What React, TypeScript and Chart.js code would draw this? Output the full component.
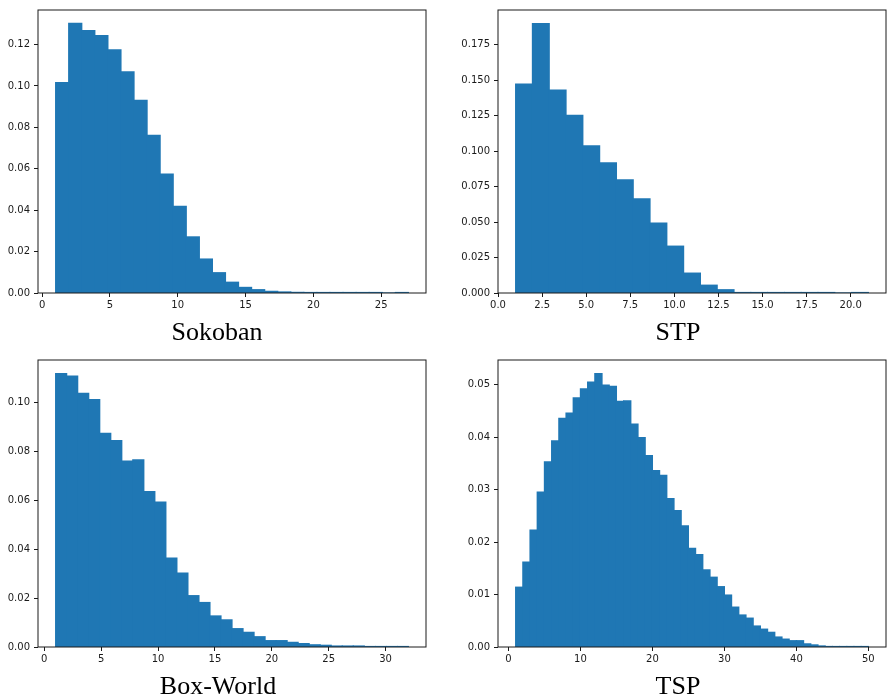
import React, { useEffect, useRef } from "react";
import { Chart, registerables } from "chart.js";

Chart.register(...registerables);

// ---------- data ----------
const sokobanValues = [
  0.1016, 0.1302, 0.1268, 0.1243, 0.1174, 0.1068, 0.0931, 0.0761, 0.0574,
  0.0418, 0.0271, 0.0164, 0.0098, 0.0052, 0.0027, 0.0016, 0.0008, 0.0005,
  0.0003, 0.0002, 0.0001, 0.0001, 0.00005, 0.00003, 0.00002, 0.0, 0.00001,
];
const sokobanXTicks = [0, 5, 10, 15, 20, 25];
const sokobanYTicks = [0.0, 0.02, 0.04, 0.06, 0.08, 0.1, 0.12];

const stpValues = [
  0.1472, 0.1899, 0.1429, 0.1252, 0.1037, 0.0917, 0.0798, 0.0663, 0.0493,
  0.033, 0.014, 0.0055, 0.0023, 0.0002, 0.0001, 0.00005, 0.00003, 0.00002,
  0.00001, 0.0, 0.00001,
];
const stpXTicks = [0, 2.5, 5, 7.5, 10, 12.5, 15, 17.5, 20];
const stpYTicks = [0, 0.025, 0.05, 0.075, 0.1, 0.125, 0.15, 0.175];

const boxWorldValues = [
  0.1118, 0.1108, 0.1038, 0.1012, 0.0874, 0.0844, 0.076, 0.0766, 0.0636,
  0.0593, 0.0364, 0.0302, 0.021, 0.0182, 0.0127, 0.0111, 0.0075, 0.006,
  0.0042, 0.0026, 0.0026, 0.0019, 0.0014, 0.0009, 0.0007, 0.0004, 0.0004,
  0.0004, 0.0002, 0.0001, 0.00005, 0.00002,
];
const boxWorldXTicks = [0, 5, 10, 15, 20, 25, 30];
const boxWorldYTicks = [0, 0.02, 0.04, 0.06, 0.08, 0.1];

const tspValues = [
  0.0114, 0.0162, 0.0223, 0.0295, 0.0353, 0.0393, 0.0436, 0.0446, 0.0475,
  0.0492, 0.0505, 0.0521, 0.0499, 0.0497, 0.0468, 0.0469, 0.0425, 0.0399,
  0.0365, 0.0336, 0.0327, 0.0283, 0.026, 0.0231, 0.0188, 0.0176, 0.0147,
  0.0133, 0.0115, 0.0099, 0.0076, 0.0061, 0.0055, 0.004, 0.0034, 0.0028,
  0.0019, 0.0015, 0.0012, 0.0012, 0.0006, 0.0004, 0.0002, 0.0001, 0.00005,
  0.00003, 0.00002, 0.00001, 0.00001,
];
const tspXTicks = [0, 10, 20, 30, 40, 50];
const tspYTicks = [0, 0.01, 0.02, 0.03, 0.04, 0.05];

const panelNames = ["Sokoban", "STP", "Box-World", "TSP"];

// ---------- layout / style ----------
const BAR_COLOR = "#1f77b4";
const AXIS_COLOR = "#1a1a1a";

type Panel = {
  name: string;
  values: number[];
  binStart: number;
  binEnd: number;
  xMin: number;
  xMax: number;
  yMax: number;
  xTicks: number[];
  yTicks: number[];
  xDec: number;
  yDec: number;
  left: number;
  top: number;
  width: number;
  height: number;
  yAxisW: number;
  padTop: number;
  padRight: number;
  xAxisH: number;
  labelX: number;
  labelTop: number;
};

const panels: Panel[] = [
  {
    name: panelNames[0], values: sokobanValues, binStart: 1, binEnd: 27,
    xMin: -0.3, xMax: 28.3, yMax: 0.1367, xTicks: sokobanXTicks, yTicks: sokobanYTicks,
    xDec: 0, yDec: 2, left: 0, top: 0, width: 440, height: 320,
    yAxisW: 38, padTop: 4, padRight: 14, xAxisH: 27, labelX: 217, labelTop: 319,
  },
  {
    name: panelNames[1], values: stpValues, binStart: 1, binEnd: 21,
    xMin: 0, xMax: 22, yMax: 0.1994, xTicks: stpXTicks, yTicks: stpYTicks,
    xDec: 1, yDec: 3, left: 445, top: 0, width: 444, height: 320,
    yAxisW: 53, padTop: 4, padRight: 3, xAxisH: 27, labelX: 678, labelTop: 319,
  },
  {
    name: panelNames[2], values: boxWorldValues, binStart: 1, binEnd: 32,
    xMin: -0.55, xMax: 33.55, yMax: 0.1174, xTicks: boxWorldXTicks, yTicks: boxWorldYTicks,
    xDec: 0, yDec: 2, left: 0, top: 350, width: 440, height: 320,
    yAxisW: 38, padTop: 8, padRight: 14, xAxisH: 23, labelX: 218, labelTop: 673,
  },
  {
    name: panelNames[3], values: tspValues, binStart: 1, binEnd: 50,
    xMin: -1.45, xMax: 52.45, yMax: 0.0547, xTicks: tspXTicks, yTicks: tspYTicks,
    xDec: 0, yDec: 2, left: 445, top: 350, width: 444, height: 320,
    yAxisW: 53, padTop: 8, padRight: 3, xAxisH: 23, labelX: 678, labelTop: 673,
  },
];

const framePlugin = {
  id: "frame",
  afterDatasetsDraw(chart: any) {
    const { ctx, chartArea } = chart;
    ctx.save();
    ctx.strokeStyle = AXIS_COLOR;
    ctx.lineWidth = 1;
    ctx.strokeRect(chartArea.left, chartArea.top, chartArea.right - chartArea.left, chartArea.bottom - chartArea.top);
    ctx.restore();
  },
};

function HistPanel({ p }: { p: Panel }) {
  const ref = useRef<HTMLCanvasElement | null>(null);
  useEffect(() => {
    if (!ref.current) return;
    const n = p.values.length;
    const w = (p.binEnd - p.binStart) / n;
    const data = p.values.map((v, i) => ({ x: p.binStart + w * (i + 0.5), y: v }));
    const tickFont = { family: "DejaVu Sans", size: 10 };
    const chart = new Chart(ref.current, {
      type: "bar",
      data: {
        datasets: [
          {
            data,
            backgroundColor: BAR_COLOR,
            borderWidth: 0,
            inflateAmount: 0.6,
            barPercentage: 1,
            categoryPercentage: 1,
          } as any,
        ],
      },
      options: {
        responsive: false,
        animation: false,
        devicePixelRatio: 1,
        layout: { padding: { top: p.padTop, right: p.padRight, left: 0, bottom: 0 } },
        plugins: { legend: { display: false }, tooltip: { enabled: false }, title: { display: false } },
        scales: {
          x: {
            type: "linear",
            min: p.xMin,
            max: p.xMax,
            offset: false,
            grid: { offset: false, drawOnChartArea: false, drawTicks: true, tickLength: 4, color: AXIS_COLOR, lineWidth: 1 },
            border: { display: false },
            ticks: {
              autoSkip: false,
              maxRotation: 0,
              padding: 2,
              color: AXIS_COLOR,
              font: tickFont,
              callback: (v: any) => Number(v).toFixed(p.xDec),
            },
            afterBuildTicks: (scale: any) => {
              scale.ticks = p.xTicks.map((v) => ({ value: v }));
            },
            afterFit: (scale: any) => {
              scale.height = p.xAxisH;
            },
          },
          y: {
            type: "linear",
            min: 0,
            max: p.yMax,
            grid: { offset: false, drawOnChartArea: false, drawTicks: true, tickLength: 4, color: AXIS_COLOR, lineWidth: 1 },
            border: { display: false },
            ticks: {
              autoSkip: false,
              padding: 4,
              color: AXIS_COLOR,
              font: tickFont,
              callback: (v: any) => Number(v).toFixed(p.yDec),
            },
            afterBuildTicks: (scale: any) => {
              scale.ticks = p.yTicks.map((v) => ({ value: v }));
            },
            afterFit: (scale: any) => {
              scale.width = p.yAxisW;
            },
          },
        },
      } as any,
      plugins: [framePlugin],
    });
    return () => chart.destroy();
  }, [p]);

  return (
    <>
      <canvas
        ref={ref}
        width={p.width}
        height={p.height}
        style={{ position: "absolute", left: p.left, top: p.top, width: p.width, height: p.height }}
      />
      <div
        style={{
          position: "absolute",
          left: p.labelX - 120,
          top: p.labelTop,
          width: 240,
          textAlign: "center",
          fontFamily: "'Liberation Serif', 'Times New Roman', serif",
          fontSize: 26,
          lineHeight: "26px",
          color: "#000",
          whiteSpace: "nowrap",
        }}
      >
        {p.name}
      </div>
    </>
  );
}

export default function App() {
  return (
    <div style={{ position: "absolute", left: 0, top: 0, width: 889, height: 700, background: "#fff", overflow: "hidden" }}>
      {panels.map((p) => (
        <HistPanel key={p.name} p={p} />
      ))}
    </div>
  );
}
